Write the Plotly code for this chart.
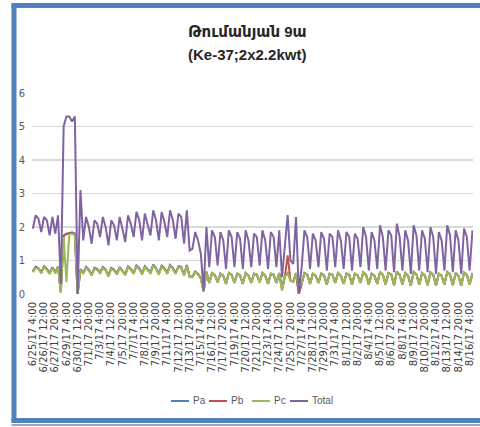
import pandas as pd
import plotly.graph_objects as go

# ---------------- data (8-hour readings, 6/25/17 4:00 .. 8/16/17 12:00) ----------------
start_time = "2017-06-25 04:00"
step_hours = 8

title_lines = ["Թումանյան 9ա", "(Ke-37;2x2.2kwt)"]

tick_labels = [
    "6/25/17 4:00", "6/26/17 12:00", "6/27/17 20:00", "6/29/17 4:00", "6/30/17 12:00",
    "7/1/17 20:00", "7/3/17 4:00", "7/4/17 12:00", "7/5/17 20:00", "7/7/17 4:00",
    "7/8/17 12:00", "7/9/17 20:00", "7/11/17 4:00", "7/12/17 12:00", "7/13/17 20:00",
    "7/15/17 4:00", "7/16/17 12:00", "7/17/17 20:00", "7/19/17 4:00", "7/20/17 12:00",
    "7/21/17 20:00", "7/23/17 4:00", "7/24/17 12:00", "7/25/17 20:00", "7/27/17 4:00",
    "7/28/17 12:00", "7/29/17 20:00", "7/31/17 4:00", "8/1/17 12:00", "8/2/17 20:00",
    "8/4/17 4:00", "8/5/17 12:00", "8/6/17 20:00", "8/8/17 4:00", "8/9/17 12:00",
    "8/10/17 20:00", "8/12/17 4:00", "8/13/17 12:00", "8/14/17 20:00", "8/16/17 4:00",
]

total = [
    1.95, 2.35, 2.25, 1.85, 2.3, 2.2, 1.75, 2.3, 1.8, 2.35,
    0.3, 5.0, 5.3, 5.3, 5.15, 5.3, 0.0, 3.1,
    1.6, 2.3, 2.0, 1.5, 2.2, 2.1, 1.7, 2.3, 2.0, 1.45, 2.2, 2.05,
    1.6, 2.3, 1.95, 1.55, 2.35, 2.1, 1.7, 2.45, 2.2, 1.6, 2.4, 2.1,
    1.75, 2.5, 2.2, 1.6, 2.45, 2.15, 1.7, 2.5, 2.2, 1.65, 2.4, 2.3,
    1.5, 2.5, 1.3,
    1.35, 1.85, 1.6,
    1.2, 0.1, 2.0,
    0.8, 1.9, 1.7, 0.85, 1.85, 1.6, 0.75, 1.9, 1.7, 0.8, 1.85, 1.65,
    0.75, 1.9, 1.6, 0.8, 1.8, 1.7, 0.85, 1.9, 1.6, 0.75, 1.85, 1.7,
    0.8, 1.9, 0.5,
    1.5, 2.36, 1.0, 0.9, 2.3, 0.03,
    0.8, 1.9, 1.7, 0.75, 1.8, 1.6, 0.8, 1.85, 1.65, 0.7, 1.8, 1.7,
    0.8, 1.9, 1.6, 0.75, 1.85, 1.7, 0.7, 1.8, 1.65, 0.8, 2.0, 1.7,
    0.7, 1.85, 1.6, 0.75, 2.05, 1.7, 0.7, 1.9, 1.75, 0.65, 2.1, 1.7,
    0.7, 1.9, 1.6, 0.6, 2.05, 1.75, 0.7, 1.9, 1.65, 0.65, 2.0, 1.7,
    0.6, 1.85, 1.6, 0.7, 2.05, 1.75, 0.65, 1.9, 1.6, 0.6, 1.95, 1.7,
    0.7, 1.9,
]

pc = [
    0.65, 0.78, 0.75, 0.62, 0.8, 0.72, 0.6, 0.78, 0.62, 0.8,
    0.05, 1.7, 0.35, 1.78, 1.8, 1.75, 0.0, 0.72,
    0.6, 0.78, 0.7, 0.55, 0.75, 0.72, 0.62, 0.78, 0.7, 0.52, 0.75, 0.7,
    0.58, 0.78, 0.68, 0.56, 0.8, 0.72, 0.6, 0.82, 0.75, 0.58, 0.8, 0.72,
    0.62, 0.85, 0.75, 0.58, 0.82, 0.74, 0.6, 0.84, 0.75, 0.6, 0.8, 0.78,
    0.55, 0.84, 0.5,
    0.5, 0.65, 0.58,
    0.45, 0.08, 0.65,
    0.33, 0.62, 0.56, 0.35, 0.6, 0.54, 0.3, 0.62, 0.57, 0.33, 0.6, 0.55,
    0.3, 0.62, 0.54, 0.33, 0.6, 0.57, 0.35, 0.62, 0.54, 0.3, 0.6, 0.57,
    0.33, 0.62, 0.1,
    0.52, 0.62, 0.4, 0.36, 0.62, 0.2,
    0.33, 0.62, 0.57, 0.3, 0.6, 0.54, 0.33, 0.6, 0.55, 0.28, 0.6, 0.57,
    0.33, 0.62, 0.54, 0.3, 0.6, 0.57, 0.28, 0.6, 0.55, 0.33, 0.64, 0.57,
    0.28, 0.6, 0.54, 0.3, 0.65, 0.57, 0.28, 0.62, 0.58, 0.26, 0.66, 0.57,
    0.28, 0.62, 0.54, 0.25, 0.65, 0.58, 0.28, 0.62, 0.55, 0.26, 0.64, 0.57,
    0.25, 0.6, 0.54, 0.28, 0.65, 0.58, 0.26, 0.62, 0.54, 0.25, 0.63, 0.57,
    0.28, 0.62,
]

pa = [
    0.68, 0.82, 0.77, 0.65, 0.83, 0.75, 0.63, 0.8, 0.65, 0.82,
    0.06, 1.75, 1.8, 1.82, 1.84, 1.8, 0.0, 0.74,
    0.63, 0.81, 0.73, 0.58, 0.78, 0.75, 0.65, 0.81, 0.73, 0.55, 0.78, 0.73,
    0.61, 0.81, 0.71, 0.59, 0.83, 0.75, 0.63, 0.85, 0.78, 0.61, 0.83, 0.75,
    0.65, 0.88, 0.78, 0.61, 0.85, 0.77, 0.63, 0.87, 0.78, 0.63, 0.83, 0.81,
    0.58, 0.87, 0.52,
    0.52, 0.67, 0.6,
    0.47, 0.08, 0.67,
    0.34, 0.63, 0.57, 0.36, 0.61, 0.55, 0.31, 0.63, 0.58, 0.34, 0.61, 0.56,
    0.31, 0.63, 0.55, 0.34, 0.61, 0.58, 0.36, 0.63, 0.55, 0.31, 0.61, 0.58,
    0.34, 0.63, 0.2,
    0.53, 0.63, 0.41, 0.37, 0.63, 0.0,
    0.34, 0.63, 0.58, 0.31, 0.61, 0.55, 0.34, 0.61, 0.56, 0.29, 0.61, 0.58,
    0.34, 0.63, 0.55, 0.31, 0.61, 0.58, 0.29, 0.61, 0.56, 0.34, 0.65, 0.58,
    0.29, 0.61, 0.55, 0.31, 0.66, 0.58, 0.29, 0.63, 0.59, 0.27, 0.67, 0.58,
    0.29, 0.63, 0.55, 0.26, 0.66, 0.59, 0.29, 0.63, 0.56, 0.27, 0.65, 0.58,
    0.26, 0.61, 0.55, 0.29, 0.66, 0.59, 0.27, 0.63, 0.55, 0.26, 0.64, 0.58,
    0.29, 0.63,
]

pb = [
    0.66, 0.8, 0.76, 0.63, 0.81, 0.74, 0.61, 0.79, 0.63, 0.81,
    0.05, 1.73, 1.79, 1.8, 1.82, 1.78, 0.0, 0.73,
    0.61, 0.79, 0.71, 0.56, 0.76, 0.73, 0.63, 0.79, 0.71, 0.53, 0.76, 0.71,
    0.59, 0.79, 0.69, 0.57, 0.81, 0.73, 0.61, 0.83, 0.76, 0.59, 0.81, 0.73,
    0.63, 0.86, 0.76, 0.59, 0.83, 0.75, 0.61, 0.85, 0.76, 0.61, 0.81, 0.79,
    0.56, 0.85, 0.51,
    0.51, 0.66, 0.59,
    0.46, 0.08, 0.66,
    0.33, 0.62, 0.56, 0.35, 0.6, 0.54, 0.3, 0.62, 0.57, 0.33, 0.6, 0.55,
    0.3, 0.62, 0.54, 0.33, 0.6, 0.57, 0.35, 0.62, 0.54, 0.3, 0.6, 0.57,
    0.33, 0.62, 0.12,
    0.52, 1.15, 0.4, 0.36, 0.62, 0.0,
    0.33, 0.62, 0.57, 0.3, 0.6, 0.54, 0.33, 0.6, 0.55, 0.28, 0.6, 0.57,
    0.33, 0.62, 0.54, 0.3, 0.6, 0.57, 0.28, 0.6, 0.55, 0.33, 0.64, 0.57,
    0.28, 0.6, 0.54, 0.3, 0.65, 0.57, 0.28, 0.62, 0.58, 0.26, 0.66, 0.57,
    0.28, 0.62, 0.54, 0.25, 0.65, 0.58, 0.28, 0.62, 0.55, 0.26, 0.64, 0.57,
    0.25, 0.6, 0.54, 0.28, 0.65, 0.58, 0.26, 0.62, 0.54, 0.25, 0.63, 0.57,
    0.28, 0.62,
]

series_names = ["Pa", "Pb", "Pc", "Total"]
series_colors = ["#4F81BD", "#C0504D", "#9BBB59", "#8064A2"]

# category labels for every reading
times = pd.date_range(start_time, periods=len(total), freq=f"{step_hours}h")
categories = [f"{t.month}/{t.day}/{t:%y} {t.hour}:00" for t in times]

# ---------------- figure ----------------
W, H = 480, 427
L, R, T, B = 32, 7, 93, 133
pw, ph = W - L - R, H - T - B


def px(x):
    return (x - L) / pw


def py(y):
    return (H - B - y) / ph


fig = go.Figure()
for name, vals, col in zip(series_names, [pa, pb, pc, total], series_colors):
    fig.add_trace(go.Scatter(x=categories, y=vals, name=name, mode="lines",
                             line=dict(color=col, width=2), showlegend=False,
                             hoverinfo="skip"))

frame_blue = "#4F81BD"
shapes = [
    dict(type="rect", xref="paper", yref="paper", layer="above",
         x0=px(11.5), x1=px(16.5), y0=py(3), y1=py(423),
         fillcolor=frame_blue, line=dict(width=0)),
    dict(type="rect", xref="paper", yref="paper", layer="above",
         x0=px(11.5), x1=px(480), y0=py(3), y1=py(8),
         fillcolor=frame_blue, line=dict(width=0)),
    dict(type="rect", xref="paper", yref="paper", layer="above",
         x0=px(11.5), x1=px(480), y0=py(418), y1=py(423),
         fillcolor=frame_blue, line=dict(width=0)),
    dict(type="rect", xref="paper", yref="paper", layer="above",
         x0=px(11.5), x1=px(480), y0=py(424), y1=py(426),
         fillcolor="#A6A6A6", line=dict(width=0)),
]

annotations = []
# two-line bold title
title_font = "Liberation Sans, DejaVu Sans, sans-serif"
for text, ty in zip(title_lines, [31, 54]):
    annotations.append(dict(text=f"<b>{text}</b>", xref="paper", yref="paper",
                            x=px(247), y=py(ty), xanchor="center", yanchor="middle",
                            showarrow=False,
                            font=dict(family=title_font, size=15, color="#262626")))

# custom legend (short swatch + label), laid out like the original
legend_font = "Liberation Sans, Arial, sans-serif"
legend_x = [171, 209, 252, 290]
for name, col, lx in zip(series_names, series_colors, legend_x):
    shapes.append(dict(type="line", xref="paper", yref="paper",
                       x0=px(lx), x1=px(lx + 18), y0=py(401), y1=py(401),
                       line=dict(color=col, width=2)))
    annotations.append(dict(text=name, xref="paper", yref="paper",
                            x=px(lx + 20), y=py(400), xanchor="left", yanchor="middle",
                            showarrow=False,
                            font=dict(family=legend_font, size=10, color="#595959")))

fig.update_layout(
    width=W, height=H,
    margin=dict(l=L, r=R, t=T, b=B, autoexpand=False),
    paper_bgcolor="white", plot_bgcolor="white",
    showlegend=False,
    hovermode=False,
    shapes=shapes,
    annotations=annotations,
    xaxis=dict(type="category", range=[-0.3, len(total) - 0.8],
               tickmode="array", tickvals=tick_labels, ticktext=tick_labels,
               tickangle=-90, showgrid=False, zeroline=False,
               showline=False, ticks="", automargin=False, ticklabelstandoff=5,
               tickfont=dict(family="DejaVu Sans", size=10, color="#404040")),
    yaxis=dict(range=[0, 6], dtick=1, tick0=0, showgrid=True,
               gridcolor="#D9D9D9", gridwidth=1.5, zeroline=False,
               showline=False, ticks="", ticklabelstandoff=6, automargin=False,
               tickfont=dict(family="DejaVu Sans", size=10, color="#595959")),
)

# remove the default 8px page margin / scrollbars so the figure fills the window exactly
fig.write_html("out.html", config={"displayModeBar": False, "staticPlot": True},
               post_script="document.body.style.margin='0';"
                           "document.documentElement.style.overflow='hidden';"
                           "document.body.style.overflow='hidden';")
